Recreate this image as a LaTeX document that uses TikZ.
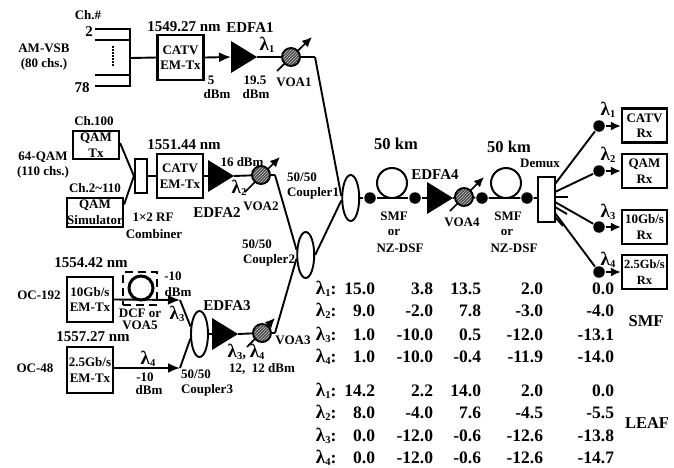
\documentclass[tikz,border=0pt]{standalone}
\usepackage{fontspec}
\setmainfont{Liberation Serif}
\usetikzlibrary{arrows.meta,shapes.geometric,patterns}
\newcommand{\lam}[1]{{\fontsize{19}{19}\selectfont λ}\raisebox{-.3ex}{\fontsize{10.5}{10}\selectfont #1}}
\newcommand{\ampl}[3]{\fill (#2-13,#3-16) -- (#2-13,#3+16) -- (#2+13,#3) -- cycle;
  \coordinate (#1-in) at (#2-13,#3); \coordinate (#1-out) at (#2+13,#3);}
\newcommand{\voa}[7]{\coordinate (#1-a) at (#4,#5); \coordinate (#1-b) at (#6,#7);
  \draw[tune] (#1-a) -- (#1-b);
  \node[voac] (#1) at (#2,#3) {};}
\tikzset{
  lbl/.style={font=\fontsize{13}{15}\selectfont\bfseries,inner sep=0pt,align=center},
  big/.style={font=\fontsize{15}{16}\selectfont\bfseries,inner sep=0pt,align=center},
  huge/.style={font=\fontsize{16.5}{17}\selectfont\bfseries,inner sep=0pt},
  tab/.style={font=\fontsize{17.5}{17}\selectfont\bfseries,inner sep=0pt,anchor=base east},
  bx/.style={draw,line width=2.2pt,inner sep=0pt,align=center,font=\fontsize{13}{15.5}\selectfont\bfseries},
  cpl/.style={draw,ellipse,line width=1.9pt,minimum width=17pt,minimum height=46pt,inner sep=0pt,fill=white},
  voac/.style={draw,circle,line width=1.9pt,minimum size=18pt,inner sep=0pt,
    preaction={fill=black!72},pattern=north east lines,pattern color=white!80!black},
  tune/.style={line width=1.7pt,-{Latex[length=10pt,width=9pt]}},
  arr/.style={-{Latex[length=12pt,width=10pt]}},
  dot/.style={circle,fill=black,minimum size=11.5pt,inner sep=0pt},
  coil/.style={draw,circle,line width=2pt,minimum size=30pt,inner sep=0pt},
}
\begin{document}
\begin{tikzpicture}[x=1pt,y=-1pt,line width=1.9pt]
\useasboundingbox (0,0) rectangle (674,467);

% AM-VSB branch
\coordinate (b1) at (95,29); \coordinate (b1e) at (130,29);
\coordinate (b2) at (95,40); \coordinate (b2e) at (130,40);
\coordinate (b3) at (95,75); \coordinate (b3e) at (130,75);
\coordinate (b4) at (95,86); \coordinate (b4e) at (130,86);
\coordinate (bm) at (130,58);
\draw (b1) -- (b1e) -- (b4e) -- (b4);
\draw (b2) -- (b2e);
\draw (b3) -- (b3e);
\draw[line width=2pt,dash pattern=on 1.5pt off 1.5pt] (113,46) -- (113,66);
\node[bx,minimum width=46pt,minimum height=45pt] (tx1) at (180.5,57.5) {CATV\\EM-Tx};
\draw (bm) -- (tx1.west);
\ampl{e1}{244}{57}
\draw[arr] (tx1.east) -- (e1-in);
\voa{v1}{291}{57}{277}{71}{312}{37}
\coordinate (k1) at (315,57);
\draw (e1-out) -- (v1) (v1) -- (k1);

% QAM branch
\node[bx,minimum width=46pt,minimum height=28pt] (qam) at (96,145) {QAM\\Tx};
\node[bx,minimum width=56pt,minimum height=29pt] (sim) at (95,212.5) {QAM\\Simulator};
\node[draw,line width=2.2pt,minimum width=12pt,minimum height=34pt,inner sep=0pt] (comb) at (141,176) {};
\draw (qam.east) ++(0,-2) -- (comb.west);
\draw (sim.east) ++(0,-8) -- (comb.west);
\node[bx,minimum width=46pt,minimum height=44pt] (tx2) at (180,176) {CATV\\EM-Tx};
\draw (comb.east) -- (tx2.west);
\ampl{e2}{221}{176}
\draw (tx2.east) -- (e2-in);
\voa{v2}{261}{175}{245}{192}{280}{157}
\coordinate (k2) at (275,175);
\draw (e2-out) -- (v2) (v2) -- (k2);

% OC branch
\node[bx,minimum width=46pt,minimum height=45pt] (tx3) at (90,299.5) {10Gb/s\\EM-Tx};
\node[bx,minimum width=46pt,minimum height=46pt] (tx4) at (90,370) {2.5Gb/s\\EM-Tx};
\node[draw,dashed,dash pattern=on 8pt off 5pt,line width=2.2pt,minimum width=34pt,minimum height=33pt,inner sep=0pt] (dcf) at (140,288.5) {};
\node[draw,circle,line width=3pt,minimum size=24pt,inner sep=0pt] (coil3) at (141,288) {};
\coordinate (t3) at (180,300);
\coordinate (t4) at (180,368);
\node[cpl] (c3) at (199.5,334) {};
\draw[arr] (tx3.east) -- (t3);
\draw[arr] (tx4.east |- t4) -- (t4);
\draw (t3) -- (c3.140);
\draw (t4) -- (c3.208);
\ampl{e3}{225}{334}
\draw (c3.east) -- (e3-in);
\voa{v3}{262}{333}{247}{347}{275}{318}
\coordinate (k3) at (275,333);
\draw (e3-out) -- (v3) (v3) -- (k3);

% couplers
\node[cpl] (c2) at (305.7,255) {};
\node[cpl] (c1) at (350.7,198) {};
\draw (k1) -- (c1.168);
\draw (c2.east) -- (c1.195);
\draw (k2) -- (c2.150);
\draw (k3) -- (c2.203);

% main line
\node[dot] (d1) at (370,198) {};
\node[dot] (d2) at (415,198) {};
\node[dot] (d3) at (482,198) {};
\node[dot] (d4) at (527,198) {};
\node[coil] (f1) at (392,183) {};
\node[coil] (f2) at (506,183) {};
\ampl{e4}{440}{198}
\voa{v4}{464}{197}{450}{211}{484}{177}
\node[draw,line width=2.2pt,minimum width=17pt,minimum height=45pt,inner sep=0pt] (dmx) at (546.5,199.5) {};
\draw (c1.east) -- (d1) -- (d2) -- (e4-in);
\draw (e4-out) -- (v4);
\draw (v4) -- (d3) -- (d4) -- (dmx.west |- d4);

% outputs
\node[bx,minimum width=45pt,minimum height=34pt] (rx1) at (644.5,125.5) {CATV\\Rx};
\node[bx,minimum width=45pt,minimum height=34pt] (rx2) at (644.5,171) {QAM\\Rx};
\node[bx,minimum width=45pt,minimum height=34pt] (rx3) at (644.5,227) {10Gb/s\\Rx};
\node[bx,minimum width=45pt,minimum height=34pt,font=\fontsize{12.5}{15.5}\selectfont\bfseries] (rx4) at (644.5,272) {2.5Gb/s\\Rx};
\node[dot] (o1) at (599,126) {};
\node[dot] (o2) at (599,171) {};
\node[dot] (o3) at (599,227) {};
\node[dot] (o4) at (599,272) {};
\coordinate (s1) at (555,184); \coordinate (s2) at (555,192);
\coordinate (s3) at (555,202); \coordinate (s4) at (555,213);
\coordinate (u1) at (555,197); \coordinate (u1e) at (568,197);
\coordinate (u2) at (555,207); \coordinate (u2e) at (567,214);
\coordinate (u3) at (555,217); \coordinate (u3e) at (563,226);
\draw (s1) -- (o1); \draw (s2) -- (o2); \draw (s3) -- (o3); \draw (s4) -- (o4);
\draw (u1) -- (u1e); \draw (u2) -- (u2e); \draw (u3) -- (u3e);
\foreach \i in {1,2,3,4} \draw[-{Latex[length=10pt,width=9pt]}] (o\i) -- (rx\i.west |- o\i);

% labels
\node[lbl] (l1) at (88,15) {Ch.\#};
\node[big] (l2) at (89,32) {2};
\node[big] (l3) at (82,88) {78};
\node[lbl] (l4) at (44,57) {AM-VSB\\(80 chs.)};
\node[big] (l5) at (184,27) {1549.27 nm};
\node[big] (l6) at (250,28) {EDFA1};
\node[big] (l7) at (267,45) {\lam{1}};
\node[lbl] (l8) at (294,82) {VOA1};
\node[lbl] (l9) at (211,80) {5};
\node[lbl] (l10) at (217,94) {dBm};
\node[lbl] (l11) at (255,80) {19.5};
\node[lbl] (l12) at (256,94) {dBm};
\node[lbl] (l13) at (94,121) {Ch.100};
\node[lbl] (l14) at (43,165) {64-QAM\\(110 chs.)};
\node[lbl] (l15) at (95,188) {Ch.2\textasciitilde110};
\node[lbl] (l16) at (153,217) {1×2 RF};
\node[lbl] (l17) at (154,234) {Combiner};
\node[big] (l18) at (184,145) {1551.44 nm};
\node[lbl] (l19) at (242,162) {16 dBm};
\node[big] (l20) at (239,188) {\lam{2}};
\node[big] (l21) at (217,213) {EDFA2};
\node[lbl] (l22) at (261,206) {VOA2};
\node[lbl] (l23) at (302,177) {50/50};
\node[lbl] (l24) at (313,193) {Coupler1};
\node[lbl] (l25) at (257,244) {50/50};
\node[lbl] (l26) at (269,260) {Coupler2};
\node[big] (l27) at (91,263) {1554.42 nm};
\node[lbl] (l28) at (39,295) {OC-192};
\node[lbl] (l29) at (173,276) {-10};
\node[lbl] (l30) at (178,292) {dBm};
\node[lbl] (l31) at (140,313) {DCF or};
\node[lbl] (l32) at (140,325) {VOA5};
\node[big] (l33) at (177,314) {\lam{3}};
\node[big] (l34) at (227,306) {EDFA3};
\node[big] (l35) at (93,337) {1557.27 nm};
\node[lbl] (l36) at (35,368) {OC-48};
\node[big] (l37) at (148,359) {\lam{4}};
\node[lbl] (l38) at (145,377) {-10};
\node[lbl] (l39) at (149,390) {dBm};
\node[lbl] (l40) at (196,374) {50/50};
\node[lbl] (l41) at (207,390) {Coupler3};
\node[big] (l42) at (246,352) {\lam{3}, \lam{4}};
\node[lbl] (l43) at (262,369) {12,\ \ 12 dBm};
\node[lbl] (l44) at (293,340) {VOA3};
\node[huge] (l45) at (396,144) {50 km};
\node[huge] (l46) at (509,147) {50 km};
\node[big] (l47) at (435,175) {EDFA4};
\node[lbl] (l48) at (540,163) {Demux};
\node[lbl] (l49) at (394,216) {SMF};
\node[lbl] (l50) at (394,232) {or};
\node[lbl] (l51) at (400,248) {NZ-DSF};
\node[lbl] (l52) at (462,222) {VOA4};
\node[lbl] (l53) at (508,216) {SMF};
\node[lbl] (l54) at (507,232) {or};
\node[lbl] (l55) at (514,248) {NZ-DSF};
\node[big] (l56) at (608,110) {\lam{1}};
\node[big] (l57) at (608,155) {\lam{2}};
\node[big] (l58) at (608,212) {\lam{3}};
\node[big] (l59) at (608,260) {\lam{4}};
\node[huge] (l60) at (646,321) {SMF};
\node[huge] (l61) at (647,423) {LEAF};

% power table
\foreach \yy/\n/\a/\b/\c/\d/\e in {
  294/1/15.0/3.8/13.5/2.0/0.0,
  316/2/9.0/-2.0/7.8/-3.0/-4.0,
  340/3/1.0/-10.0/0.5/-12.0/-13.1,
  362/4/1.0/-10.0/-0.4/-11.9/-14.0,
  396/1/14.2/2.2/14.0/2.0/0.0,
  418/2/8.0/-4.0/7.6/-4.5/-5.5,
  441/3/0.0/-12.0/-0.6/-12.6/-13.8,
  463/4/0.0/-12.0/-0.6/-12.6/-14.7}{
  \node[tab,anchor=base west] (r\yy) at (315,\yy) {\lam{\n}:};
  \node[tab] (a\yy) at (376,\yy) {\a};
  \node[tab] (b\yy) at (434,\yy) {\b};
  \node[tab] (c\yy) at (482,\yy) {\c};
  \node[tab] (d\yy) at (544,\yy) {\d};
  \node[tab] (e\yy) at (615,\yy) {\e};
}
\end{tikzpicture}
\end{document}
